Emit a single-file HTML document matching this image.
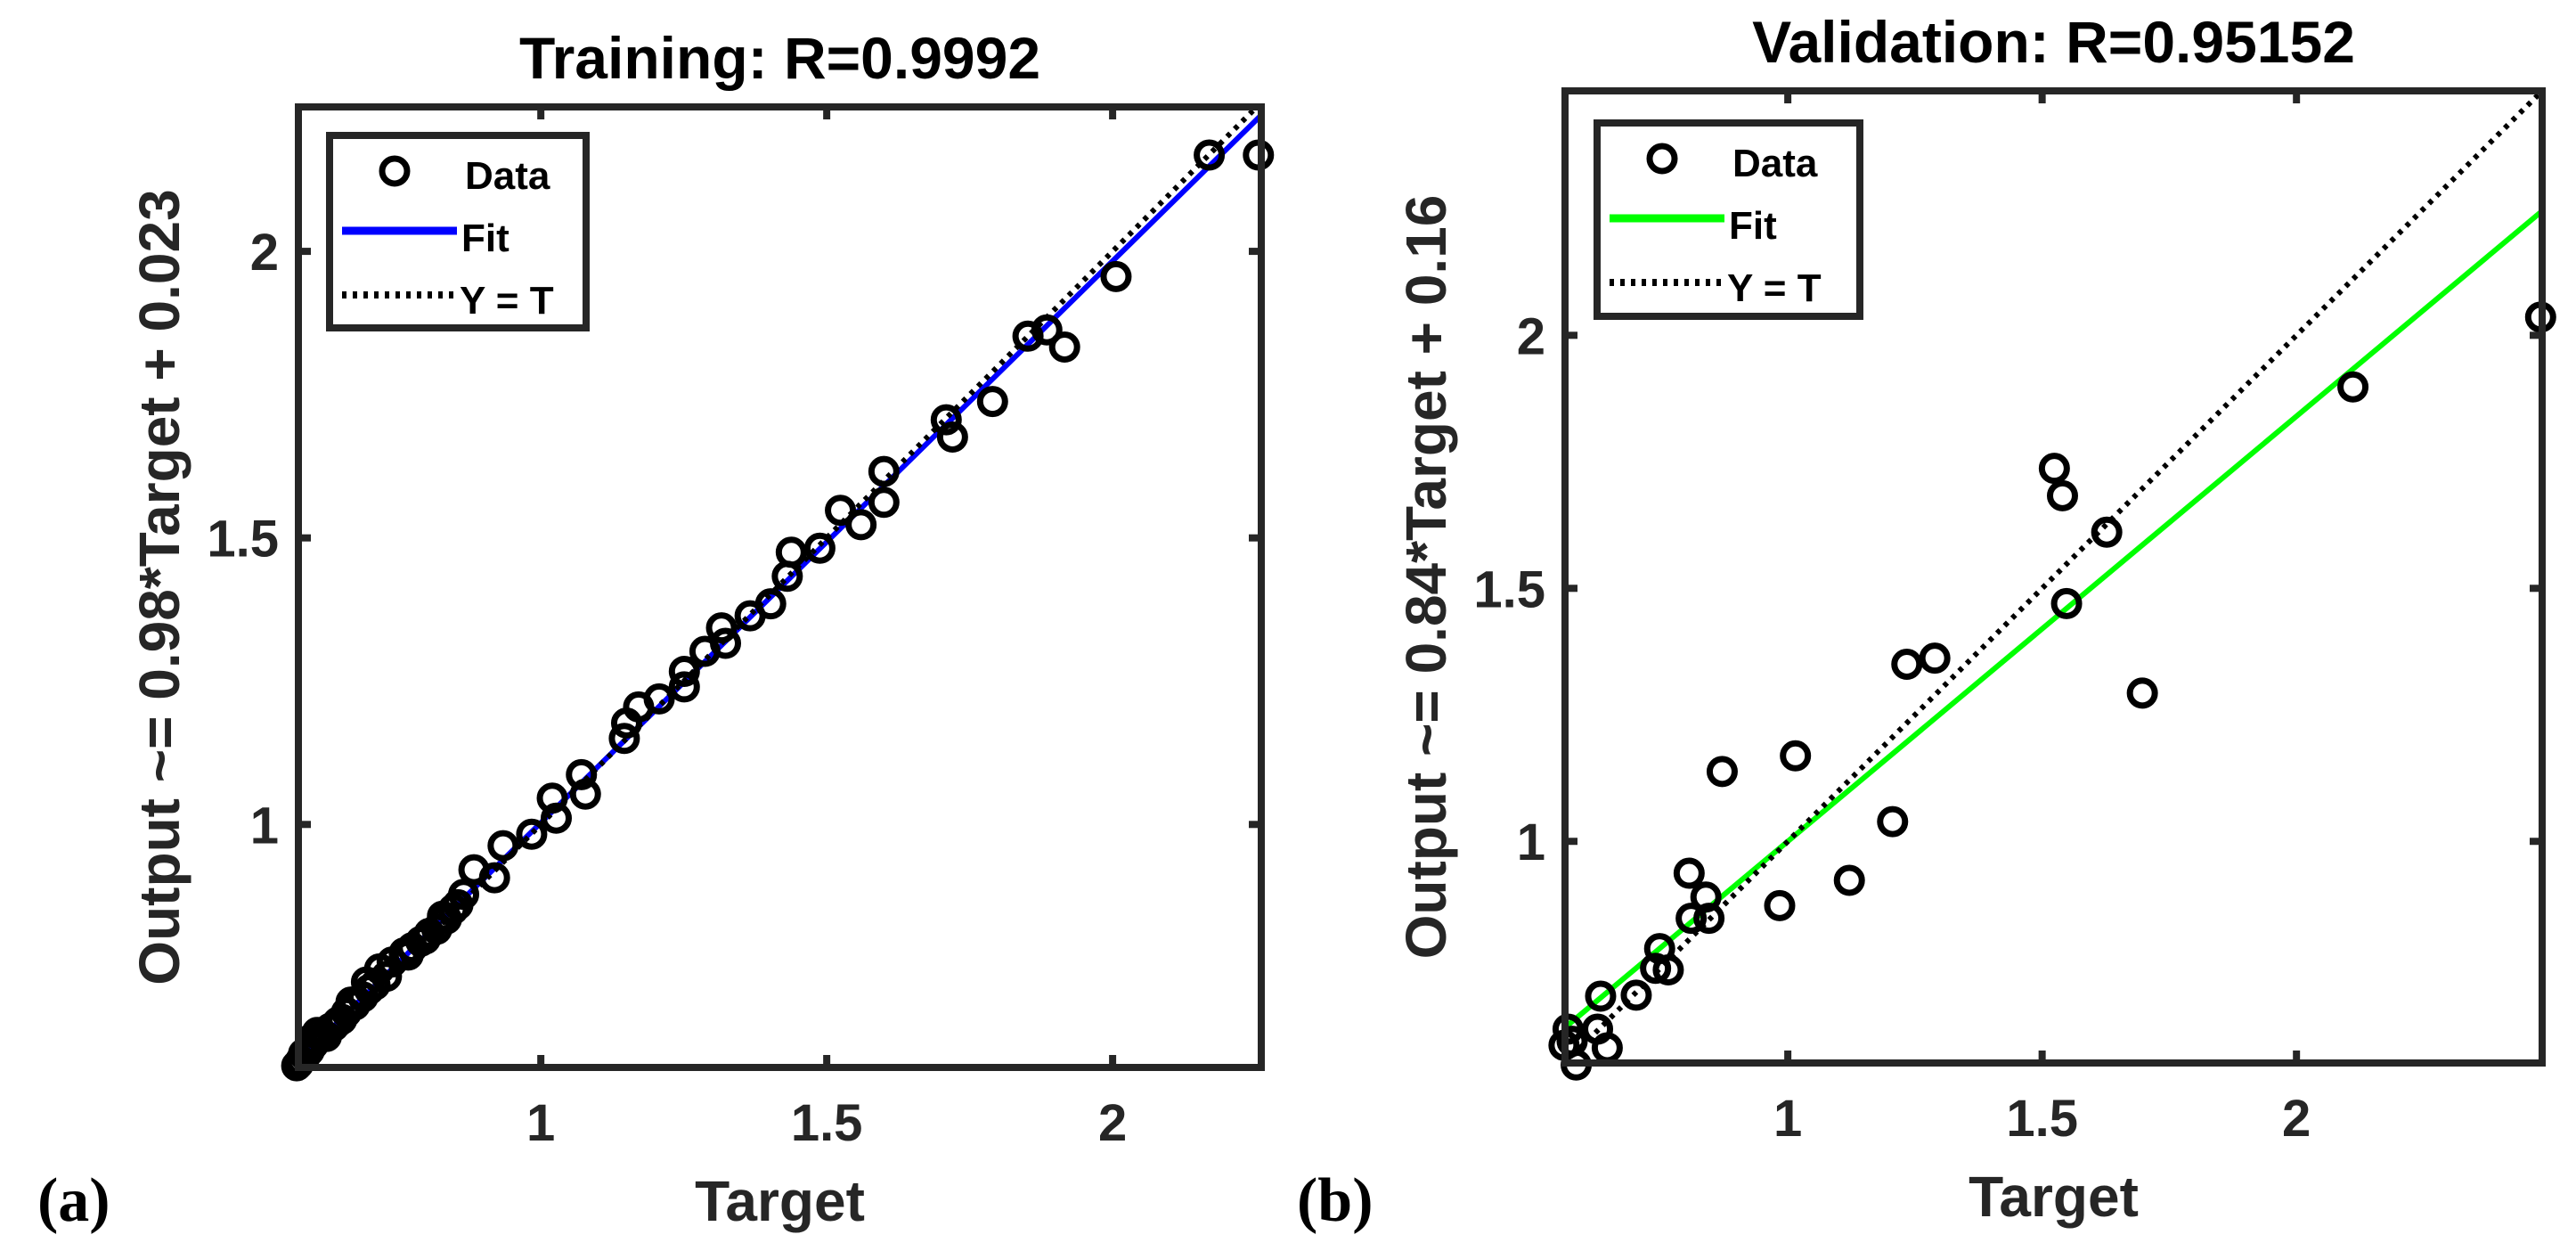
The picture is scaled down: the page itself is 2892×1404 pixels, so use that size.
<!DOCTYPE html>
<html><head><meta charset="utf-8"><style>
html,body{margin:0;padding:0;background:#fff;width:2892px;height:1404px;overflow:hidden}
svg{display:block}
text{font-family:"Liberation Sans",Arial,sans-serif;font-weight:bold}
</style></head><body>
<svg id="fig" width="2892" height="1404" viewBox="0 0 2892 1404" xmlns="http://www.w3.org/2000/svg">
<text x="42" y="1370" style="font-family:'Liberation Serif',serif;font-size:70px;font-weight:bold">(a)</text>
<text x="1456" y="1370" style="font-family:'Liberation Serif',serif;font-size:70px;font-weight:bold">(b)</text>
</svg>
<script>
// ---- Training data ----
const trainTarget = [2.255,2.169,2.006,1.916,1.885,1.852,1.79,1.709,1.72,1.60,1.60,1.56,1.524,1.488,1.438,1.431,1.402,1.366,1.316,1.323,1.287,1.251,1.251,1.207,1.171,1.15,1.146,1.071,1.078,1.02,1.027,0.984,0.934,0.919,0.883,0.865,0.855,0.847,0.835,0.828,0.818,0.805,0.798,0.79,0.775,0.768,0.761,0.74,0.73,0.718,0.71,0.70,0.695,0.689,0.675,0.668,0.66,0.652,0.645,0.638,0.631,0.625,0.62,0.609,0.602,0.598,0.595,0.588,0.585,0.58,0.576,0.573];
const trainOutput = [2.168,2.168,1.956,1.833,1.863,1.852,1.738,1.706,1.676,1.616,1.562,1.523,1.548,1.482,1.475,1.433,1.385,1.364,1.343,1.316,1.302,1.267,1.24,1.219,1.205,1.177,1.15,1.087,1.053,1.046,1.011,0.983,0.963,0.907,0.921,0.878,0.86,0.852,0.835,0.84,0.817,0.81,0.8,0.796,0.785,0.772,0.776,0.76,0.735,0.748,0.72,0.712,0.725,0.699,0.685,0.69,0.672,0.66,0.655,0.648,0.644,0.63,0.632,0.637,0.616,0.625,0.605,0.596,0.6,0.588,0.582,0.579];
const trainFit = [0.98, 0.023];
// ---- Validation data ----
const valTarget = [2.48,2.111,1.524,1.54,1.627,1.548,1.697,1.234,1.289,1.015,0.871,1.206,1.121,0.984,0.806,0.839,0.81,0.845,0.748,0.74,0.765,0.702,0.632,0.626,0.645,0.568,0.576,0.584,0.56];
const valOutput = [2.036,1.898,1.737,1.683,1.611,1.470,1.293,1.35,1.362,1.169,1.138,1.039,0.923,0.873,0.937,0.89,0.848,0.848,0.788,0.749,0.746,0.696,0.694,0.629,0.592,0.629,0.605,0.558,0.597];
const valFit = [0.84, 0.16];
const tickValues = [1, 1.5, 2];
const tickLabels = ["1", "1.5", "2"];

const NS = "http://www.w3.org/2000/svg";
const svg = document.getElementById("fig");
function mk(tag, attrs, parent) {
  const e = document.createElementNS(NS, tag);
  for (const k in attrs) e.setAttribute(k, attrs[k]);
  (parent || svg).appendChild(e);
  return e;
}

function panel(cfg) {
  const g = mk("g", {});
  
  
  const L = cfg.box[0], T = cfg.box[1], R = cfg.box[2], B = cfg.box[3];
  const xs = v => L + (v - cfg.xd[0]) / (cfg.xd[1] - cfg.xd[0]) * (R - L);
  const ys = v => B - (v - cfg.yd[0]) / (cfg.yd[1] - cfg.yd[0]) * (B - T);
  const clipId = cfg.name + "-clip";
  const defs = mk("defs", {}, g);
  const cp = mk("clipPath", {id: clipId}, defs);
  mk("rect", {x: L, y: T, width: R - L, height: B - T}, cp);

  const title = mk("text", {x: (L + R) / 2, y: cfg.titleY, "text-anchor": "middle", "font-size": 66, fill: "#000"}, g);
  title.textContent = cfg.title;
  
  

  const plot = mk("g", {"clip-path": "url(#" + clipId + ")"}, g);
  const fit = mk("line", {x1: xs(cfg.xd[0]), y1: ys(cfg.fit[0] * cfg.xd[0] + cfg.fit[1]), x2: xs(cfg.xd[1]), y2: ys(cfg.fit[0] * cfg.xd[1] + cfg.fit[1]), stroke: cfg.color, "stroke-width": 6}, plot);
  
  
  const yt = mk("line", {x1: xs(cfg.xd[0]), y1: ys(cfg.xd[0]), x2: xs(cfg.xd[1]), y2: ys(cfg.xd[1]), stroke: "#000", "stroke-width": 6, "stroke-dasharray": "5 7"}, plot);
  
  

  for (let i = 0; i < cfg.tx.length; i++) {
    const c = mk("circle", {cx: xs(cfg.tx[i]), cy: ys(cfg.ty[i]), r: 14, fill: "none", stroke: "#000", "stroke-width": 7}, g);
    
    
  }

  const box = mk("rect", {x: L, y: T, width: R - L, height: B - T, fill: "none", stroke: "#262626", "stroke-width": 8}, g);
  
  

  for (let i = 0; i < tickValues.length; i++) {
    const v = tickValues[i];
    const px = xs(v), py = ys(v);
    mk("line", {x1: px, y1: B, x2: px, y2: B - 14, stroke: "#262626", "stroke-width": 8}, g);
    mk("line", {x1: px, y1: T, x2: px, y2: T + 14, stroke: "#262626", "stroke-width": 8}, g);
    mk("line", {x1: L, y1: py, x2: L + 14, y2: py, stroke: "#262626", "stroke-width": 8}, g);
    mk("line", {x1: R, y1: py, x2: R - 14, y2: py, stroke: "#262626", "stroke-width": 8}, g);
    const xl = mk("text", {x: px, y: B + 82, "text-anchor": "middle", "font-size": 58, fill: "#262626"}, g);
    xl.textContent = tickLabels[i];
    
    
    const yl = mk("text", {x: L - 22, y: py + 21, "text-anchor": "end", "font-size": 58, fill: "#262626"}, g);
    yl.textContent = tickLabels[i];
    
    
  }

  const xt = mk("text", {x: (L + R) / 2, y: B + 172, "text-anchor": "middle", "font-size": 64, fill: "#262626"}, g);
  xt.textContent = "Target";
  
  
  const cy = (T + B) / 2;
  const ytt = mk("text", {x: L - 134, y: cy, "text-anchor": "middle", "font-size": 64, fill: "#262626", transform: "rotate(-90 " + (L - 134) + " " + cy + ")"}, g);
  ytt.textContent = cfg.ylabel;
  
  

  const lg = mk("g", {}, g);
  
  
  const Lx = cfg.leg[0], Ly = cfg.leg[1];
  mk("rect", {x: Lx, y: Ly, width: cfg.leg[2], height: cfg.leg[3], fill: "#fff", stroke: "#262626", "stroke-width": 8}, lg);
  const lc = mk("circle", {cx: Lx + 73, cy: Ly + 40, r: 14, fill: "none", stroke: "#000", "stroke-width": 7}, lg);
  
  
  const t1 = mk("text", {x: Lx + 152, y: Ly + 60, "font-size": 44, fill: "#000"}, lg);
  t1.textContent = "Data";
  
  
  mk("line", {x1: Lx + 14, y1: Ly + 107, x2: Lx + 143, y2: Ly + 107, stroke: cfg.color, "stroke-width": 9}, lg);
  const t2 = mk("text", {x: Lx + 148, y: Ly + 130, "font-size": 44, fill: "#000"}, lg);
  t2.textContent = "Fit";
  
  
  mk("line", {x1: Lx + 14, y1: Ly + 179, x2: Lx + 143, y2: Ly + 179, stroke: "#000", "stroke-width": 8, "stroke-dasharray": "5 7"}, lg);
  const t3 = mk("text", {x: Lx + 146, y: Ly + 200, "font-size": 44, fill: "#000"}, lg);
  t3.textContent = "Y = T";
  
  
}

panel({name: "training-panel", box: [335, 120, 1416, 1198], xd: [0.576, 2.260], yd: [0.576, 2.252],
  title: "Training: R=0.9992", titleY: 88, tx: trainTarget, ty: trainOutput, fit: trainFit, color: "#0000ff",
  ylabel: "Output ~= 0.98*Target + 0.023", leg: [370, 152, 288, 216]});
panel({name: "validation-panel", box: [1757, 102, 2854, 1193], xd: [0.562, 2.483], yd: [0.562, 2.483],
  title: "Validation: R=0.95152", titleY: 70, tx: valTarget, ty: valOutput, fit: valFit, color: "#00ff00",
  ylabel: "Output ~= 0.84*Target + 0.16", leg: [1793, 138, 295, 217]});
</script>
</body></html>
